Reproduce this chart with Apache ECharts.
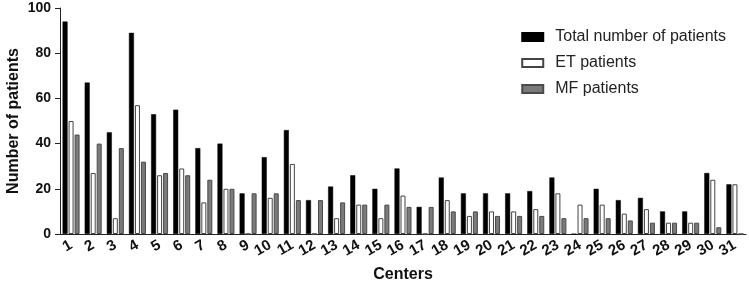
<!DOCTYPE html>
<html><head><meta charset="utf-8">
<script src="https://cdn.jsdelivr.net/npm/echarts@6/dist/echarts.min.js"></script>
<style>html,body{margin:0;padding:0;background:#fff}#c{width:749px;height:288px}</style>
</head><body><div id="c"></div>
<script>
const centers = ['1','2','3','4','5','6','7','8','9','10','11','12','13','14','15','16','17','18','19','20','21','22','23','24','25','26','27','28','29','30','31'];
const totalPatients = [94,67,45,89,53,55,38,40,18,34,46,15,21,26,20,29,12,25,18,18,18,19,25,0,20,15,16,10,10,27,22];
const etPatients    = [50,27,7,57,26,29,14,20,0,16,31,0,7,13,7,17,0,15,8,10,10,11,18,13,13,9,11,5,5,24,22];
const mfPatients    = [44,40,38,32,27,26,24,20,18,18,15,15,14,13,13,12,12,10,10,8,8,8,7,7,7,6,5,5,5,3,0];
const yTicks = [0,20,40,60,80,100];

const chart = echarts.init(document.getElementById('c'));
const font = 'Liberation Sans, Arial, sans-serif';
chart.setOption({
  animation:false,
  grid:{left:60,right:3,top:8,bottom:54,containLabel:false,outerBoundsMode:'none'},
  legend:{
    right:18, top:24, orient:'vertical', itemWidth:21, itemHeight:8, itemGap:10, icon:'rect',
    textStyle:{fontFamily:font,fontSize:16,color:'#222',padding:[0,0,0,7]},
    data:['Total number of patients','ET patients','MF patients']
  },
  xAxis:{
    type:'category', data:centers, boundaryGap:true,
    name:'Centers', nameLocation:'middle', nameGap:33, nameMoveOverlap:false,
    nameTextStyle:{fontFamily:font,fontSize:16,fontWeight:'bold',color:'#111'},
    axisLine:{lineStyle:{color:'#222',width:1}},
    axisTick:{alignWithLabel:true,length:5,lineStyle:{color:'#222'}},
    axisLabel:{rotate:30,fontFamily:font,fontSize:15,fontWeight:'bold',color:'#111',margin:10,interval:0}
  },
  yAxis:{
    type:'value', min:yTicks[0], max:yTicks[yTicks.length-1], interval:20,
    name:'Number of patients', nameLocation:'middle', nameGap:38, nameMoveOverlap:false,
    nameTextStyle:{fontFamily:font,fontSize:16,fontWeight:'bold',color:'#111'},
    axisLine:{show:true,lineStyle:{color:'#222',width:1}},
    axisTick:{show:true,length:5,lineStyle:{color:'#222'}},
    splitLine:{show:false},
    axisLabel:{fontFamily:font,fontSize:14,fontWeight:'bold',color:'#111',margin:9}
  },
  series:[
    {name:'Total number of patients',type:'bar',data:totalPatients,barWidth:5,barGap:'20%',
     itemStyle:{color:'#000',borderColor:'#000',borderWidth:0.5}},
    {name:'ET patients',type:'bar',data:etPatients,barWidth:5,barGap:'20%',
     itemStyle:{color:'#fff',borderColor:'#444',borderWidth:1}},
    {name:'MF patients',type:'bar',data:mfPatients,barWidth:5,barGap:'20%',
     itemStyle:{color:'#7a7a7a',borderColor:'#4a4a4a',borderWidth:1}}
  ]
});
</script></body></html>
